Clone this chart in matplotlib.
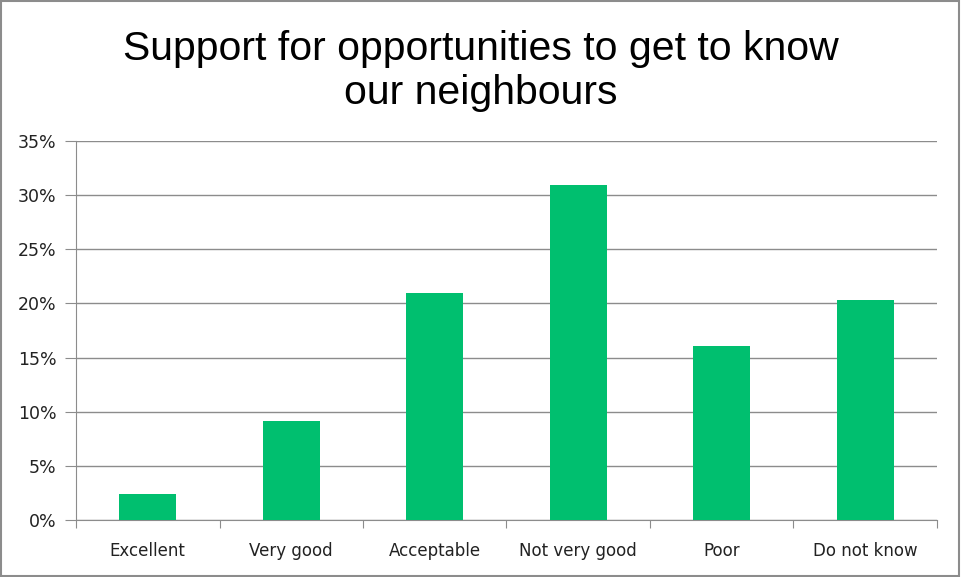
import matplotlib
matplotlib.use("Agg")
import matplotlib.pyplot as plt
from matplotlib.ticker import FuncFormatter, MultipleLocator

# Data
categories = ['Excellent', 'Very good', 'Acceptable', 'Not very good', 'Poor', 'Do not know']
percent = [2.4, 9.1, 21.0, 30.9, 16.1, 20.3]

fig = plt.figure(figsize=(9.61, 5.77), dpi=100)
ax = fig.add_axes([0.0791, 0.0988, 0.8959, 0.6568])

x = list(range(len(categories)))
ax.bar(x, percent, width=0.40, color='#00BF6F', zorder=3)

ax.set_xlim(-0.5, len(categories) - 0.5)
ax.set_ylim(0, 35)
ax.yaxis.set_major_locator(MultipleLocator(5))
ax.yaxis.set_major_formatter(FuncFormatter(lambda v, p: f'{v:.0f}%'))
ax.grid(axis='y', color='#8c8c8c', linewidth=1, zorder=0)

# category labels between boundary ticks
ax.set_xticks([i - 0.5 for i in range(len(categories) + 1)])
ax.set_xticklabels([])
ax.set_xticks(x, minor=True)
ax.set_xticklabels(categories, minor=True, fontsize=12, color='#222222')
ax.tick_params(axis='x', which='minor', length=0, pad=16)
ax.tick_params(axis='x', which='major', length=6, color='#8c8c8c', direction='out')
ax.tick_params(axis='y', length=8, color='#8c8c8c', labelsize=12.5, labelcolor='#222222', pad=6)

for side in ['top', 'right']:
    ax.spines[side].set_visible(False)
for side in ['left', 'bottom']:
    ax.spines[side].set_color('#8c8c8c')

fig.text(0.5, 0.877, 'Support for opportunities to get to know\nour neighbours',
         ha='center', va='center', fontsize=29.5, family='Liberation Sans',
         linespacing=1.2)

# outer frame
fig.patches.append(plt.Rectangle((0.001, 0.002), 0.997, 0.996, transform=fig.transFigure,
                                 fill=False, edgecolor='#8c8c8c', linewidth=1.5))

fig.savefig('out.png', dpi=100)
